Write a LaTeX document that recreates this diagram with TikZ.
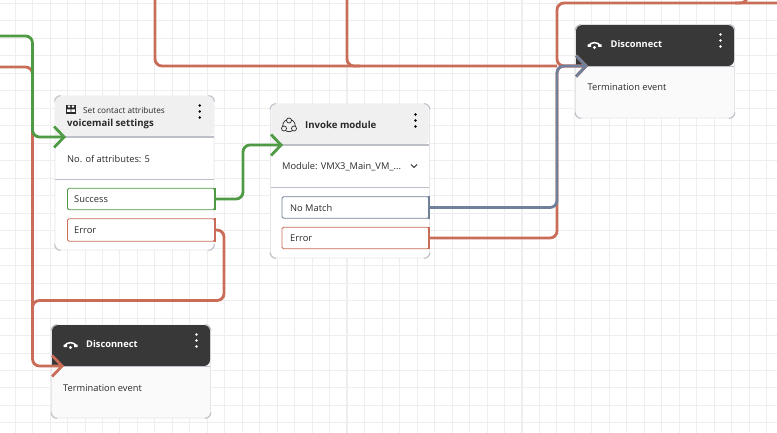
\documentclass[tikz,border=0pt]{standalone}
\usepackage{fontspec}
\setmainfont{Open Sans}
\usetikzlibrary{arrows.meta}

\definecolor{okgreen}{HTML}{4F9B45}
\definecolor{errred}{HTML}{C96C58}
\definecolor{nomatch}{HTML}{71809A}
\definecolor{gridgrey}{HTML}{EEEEEE}
\definecolor{headgrey}{HTML}{F0F0F0}
\definecolor{darkhead}{HTML}{383838}
\definecolor{cardline}{HTML}{E6E6E8}
\definecolor{ruleline}{HTML}{BDC0C9}
\definecolor{inktext}{HTML}{2A2A2A}

\tikzset{
    card/.style={draw=cardline, line width=0.8, fill=white, rounded corners=6, minimum width=159, minimum height=#1, inner sep=0},
    endcard/.style={card=#1, fill=black!2},
    cornermark/.style={draw=ruleline, line width=1, rounded corners=6},
    cardtitle/.style={font=\fontsize{9.6}{11}\selectfont\bfseries, text=inktext, inner sep=0, anchor=west},
    cardtext/.style={font=\fontsize{9.3}{11}\selectfont, text=inktext, inner sep=0, anchor=west},
    outbox/.style={draw=#1, line width=0.9, fill=white, rounded corners=1.5, minimum width=147, minimum height=21.5, inner sep=0},
    wire/.style={line width=2.8, rounded corners=7, -{Straight Barb[length=10, width=21, line width=2.8]}},
    plainwire/.style={line width=2.8, rounded corners=7},
}

\begin{document}
\begin{tikzpicture}[x=1pt, y=-1pt]
    \useasboundingbox (0,0) rectangle (777,433);

    % Background grid
    \foreach \k in {0,...,44} {
        \draw[gridgrey, line width=0.8] (15+17.48*\k, 0) -- (15+17.48*\k, 433);
    }
    \foreach \k in {0,...,24} {
        \draw[gridgrey, line width=0.8] (0, 3.3+17.48*\k) -- (777, 3.3+17.48*\k);
    }
    \foreach \k in {172.3, 347, 522} {
        \draw[gridgrey, line width=1.3] (\k, 0) -- (\k, 433);
    }

    % Set contact attributes card
    \node[card=154] (attrs) at (134.5, 173) {};
    \fill[headgrey, rounded corners=6] (55.4,137) -- (55.4,96.4) -- (213.6,96.4) -- (213.6,137) [sharp corners] -- cycle;
    \draw[ruleline, line width=1.2] (55,137) -- (214,137);
    \draw[ruleline, line width=0.7] (55,179) -- (214,179);
    \fill[inktext] (66,105) rectangle (76,114);
    \fill[white] (69,106.5) circle (1.3) (73,106.5) circle (1.3);
    \fill[white] (67.2,112) rectangle (70.6,109.5) (71.4,112) rectangle (74.8,109.5);
    \node[cardtext, font=\fontsize{8.2}{10}\selectfont] (attrstype) at (83, 110) {Set contact attributes};
    \node[cardtitle] (attrstitle) at (67, 124.5) {voicemail settings};
    \node[cardtext] (attrscount) at (67, 159) {No. of attributes: 5};
    \fill[black] (199.7,105.5) circle (1.4) (199.7,111.5) circle (1.4) (199.7,117.5) circle (1.4);
    \node[outbox=okgreen] (attrsok) at (141, 199) {};
    \draw[okgreen, line width=2] (attrsok.north east) -- (attrsok.south east);
    \node[cardtext] (attrsoktext) at (74, 199.5) {Success};
    \node[outbox=errred, minimum height=22.5] (attrserr) at (141, 230) {};
    \draw[errred, line width=2] (attrserr.north east) -- (attrserr.south east);
    \node[cardtext] (attrserrtext) at (74, 230.5) {Error};

    % Invoke module card
    \node[card=154] (invoke) at (350, 181) {};
    \fill[headgrey, rounded corners=6] (271.4,145) -- (271.4,104.4) -- (428.6,104.4) -- (428.6,145) [sharp corners] -- cycle;
    \draw[ruleline, line width=1.2] (271,145) -- (429,145);
    \draw[ruleline, line width=0.7] (271,187) -- (429,187);
    \draw[inktext, line width=0.7] (289,125.5) circle (6.2);
    \draw[inktext, line width=0.7, fill=headgrey] (289,120.5) circle (2.5) (284,128.5) circle (2.5) (294,128.5) circle (2.5);
    \node[cardtitle] (invoketitle) at (305, 124.5) {Invoke module};
    \node[cardtext] (invokemod) at (282, 166.5) {Module: VMX3\_Main\_VM\_...};
    \draw[inktext, line width=0.9] (411,164.5) -- (414,167.5) -- (417,164.5);
    \fill[black] (415.5,114.5) circle (1.4) (415.5,120.5) circle (1.4) (415.5,126.5) circle (1.4);
    \node[outbox=nomatch] (invokeno) at (355.5, 207.5) {};
    \draw[nomatch, line width=2] (invokeno.north east) -- (invokeno.south east);
    \node[cardtext] (invokenotext) at (290, 208.5) {No Match};
    \node[outbox=errred] (invokeerr) at (355.5, 238) {};
    \draw[errred, line width=2] (invokeerr.north east) -- (invokeerr.south east);
    \node[cardtext] (invokeerrtext) at (290, 238.5) {Error};

    % Disconnect card, top right
    \node[endcard=93] (endtop) at (655, 71.5) {};
    \fill[darkhead, rounded corners=6] (576,66) -- (576,25) -- (734,25) -- (734,66) [sharp corners] -- cycle;
    \draw[ruleline, line width=0.8] (576,66) -- (734,66);
    \draw[white, line width=1.5] (588.5,46) .. controls (591,41.5) and (598,41.5) .. (600.5,46);
    \fill[white] (587.5,44.5) rectangle (591,47) (598,44.5) rectangle (601.5,47);
    \fill[white] (594.5,47.5) circle (1.6);
    \node[cardtitle, font=\fontsize{9.3}{11}\selectfont\bfseries, text=white] (endtoptitle) at (610.5, 44.5) {Disconnect};
    \node[cardtext] (endtoptext) at (587.5, 87) {Termination event};
    \fill[white] (720.5,34.5) circle (1.4) (720.5,40.5) circle (1.4) (720.5,46.5) circle (1.4);

    % Disconnect card, bottom
    \node[endcard=93] (endlow) at (131, 371.5) {};
    \fill[darkhead, rounded corners=6] (52,366) -- (52,325) -- (210,325) -- (210,366) [sharp corners] -- cycle;
    \draw[ruleline, line width=0.8] (52,366) -- (210,366);
    \draw[white, line width=1.5] (64.5,346) .. controls (67,341.5) and (74,341.5) .. (76.5,346);
    \fill[white] (63.5,344.5) rectangle (67,347) (74,344.5) rectangle (77.5,347);
    \fill[white] (70.5,347.5) circle (1.6);
    \node[cardtitle, font=\fontsize{9.3}{11}\selectfont\bfseries, text=white] (endlowtitle) at (86, 344.5) {Disconnect};
    \node[cardtext] (endlowtext) at (63, 388) {Termination event};
    \fill[white] (196.5,334.5) circle (1.4) (196.5,340.5) circle (1.4) (196.5,346.5) circle (1.4);

    % Darker card corners
    \foreach \c in {attrs, invoke, endtop, endlow} {
        \draw[cornermark] (\c.south west) ++(0,-6) -- ++(0,6) -- ++(6,0);
        \draw[cornermark] (\c.south east) ++(0,-6) -- ++(0,6) -- ++(-6,0);
        \draw[cornermark] (\c.north west) ++(0,6) -- ++(0,-6) -- ++(6,0);
        \draw[cornermark] (\c.north east) ++(0,6) -- ++(0,-6) -- ++(-6,0);
    }

    % Entry points of the cards and loose line ends
    \coordinate (attrsin) at (66,137);
    \coordinate (invokein) at (283,145);
    \coordinate (endtopin) at (588,66);
    \coordinate (endlowin) at (64,366);
    \coordinate (leftgreen) at (-2,36);
    \coordinate (leftred) at (-2,67);
    \coordinate (topleft) at (155,-2);
    \coordinate (topmid) at (347,-2);
    \coordinate (topright) at (747.5,-2);
    \coordinate (farright) at (779,3);

    % Error lines
    \draw[errred, wire] (leftred) -- (32.5,67) -- (32.5,366) -- (endlowin);
    \draw[errred, plainwire] (attrserr.east) -- (224,230) -- (224,300.5) -- (32.5,300.5) -- (32.5,310);
    \draw[errred, plainwire] (topleft) -- (155,66) -- (557,66);
    \draw[errred, plainwire] (topmid) -- (347,66) -- (360,66);
    \draw[errred, plainwire] (topright) -- (747.5,3) -- (735,3);
    \draw[errred, wire] (farright) -- (557,3) -- (557,66) -- (endtopin);
    \draw[errred, wire] (invokeerr.east) -- (557,238) -- (557,66) -- (endtopin);

    % Success and no match lines
    \draw[okgreen, wire] (leftgreen) -- (32.5,36) -- (32.5,137) -- (attrsin);
    \draw[okgreen, wire] (attrsok.east) -- (243,199) -- (243,145) -- (invokein);
    \draw[nomatch, wire] (invokeno.east) -- (557,207.5) -- (557,66) -- (endtopin);
\end{tikzpicture}
\end{document}
